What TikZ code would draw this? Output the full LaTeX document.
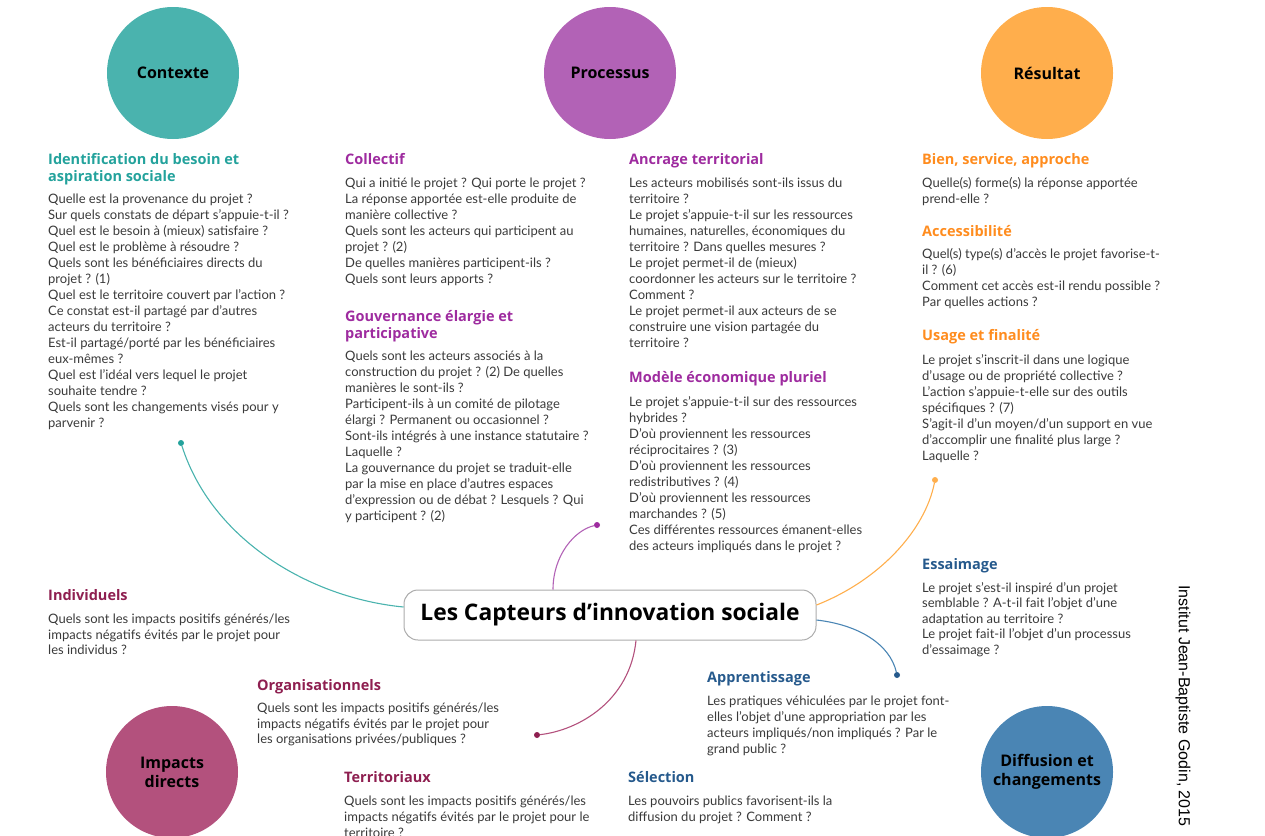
\documentclass[tikz,border=0pt]{standalone}
\usepackage{fontspec}
\setmainfont{Lato}
\newfontfamily\headfont{Open Sans}
\newfontfamily\signfont{Liberation Sans}
\usetikzlibrary{positioning}

\definecolor{ctxfill}{HTML}{4AB3AE}
\definecolor{profill}{HTML}{B262B6}
\definecolor{resfill}{HTML}{FFAE4C}
\definecolor{impfill}{HTML}{B3517D}
\definecolor{diffill}{HTML}{4A85B4}
\definecolor{ctxtxt}{HTML}{23A29C}
\definecolor{protxt}{HTML}{9E2B9F}
\definecolor{restxt}{HTML}{FF8C1E}
\definecolor{imptxt}{HTML}{8E1F50}
\definecolor{diftxt}{HTML}{25598C}
\definecolor{bodytxt}{HTML}{3A3A3A}

\begin{document}
\begin{tikzpicture}[x=1pt,y=-1pt,
    pole/.style={circle, minimum size=132pt, inner sep=0pt, align=center,
      font=\headfont\fontsize{16}{19}\selectfont\bfseries},
    rubric/.style={anchor=north west, inner sep=0pt, align=left,
      font=\headfont\fontsize{14.5}{16.8}\selectfont\bfseries},
    quest/.style={anchor=north west, inner sep=0pt, align=left, text=bodytxt,
      font=\fontsize{13}{16}\selectfont},
    tight/.style={font=\fontsize{13}{15.6}\selectfont},
    link/.style={line width=1.1pt},
    knob/.style={circle, fill, inner sep=0pt, minimum size=6pt}]
  \useasboundingbox (0,0) rectangle (1265,835);

  % the five poles
  \foreach \name/\x/\y/\col/\txt in {contexte/173/73/ctxfill/Contexte,
      processus/610/73/profill/Processus, resultat/1047/73/resfill/R\'esultat,
      impacts/172/772/impfill/{Impacts\\directs},
      diffusion/1047/772/diffill/{Diffusion et\\changements}} {
    \node[pole, fill=\col] (\name) at (\x,\y) {\txt};
  }

  % centre
  \node[draw=gray!65, fill=white, rounded corners=14pt, line width=1pt,
    minimum width=412pt, minimum height=50pt,
    font=\headfont\fontsize{22.8}{26}\selectfont\bfseries] (capteurs) at (610,615)
    {Les Capteurs d’innovation sociale};

  % connectors
  \node[knob, ctxtxt] (kctx) at (181,443) {};
  \node[knob, protxt] (kpro) at (597,525) {};
  \node[knob, resfill] (kres) at (935,480) {};
  \node[knob, diftxt] (kdif) at (897,675) {};
  \node[knob, imptxt] (kimp) at (537,735) {};
  \draw[link, ctxfill] ([yshift=8pt]capteurs.west) .. controls (310,598) and (212,540) .. (kctx);
  \draw[link, profill] ([xshift=-57pt]capteurs.north) .. controls (553,555) and (575,530) .. (kpro);
  \draw[link, resfill] ([yshift=10pt]capteurs.east) .. controls (880,580) and (925,530) .. (kres);
  \draw[link, diffill] ([yshift=-5pt]capteurs.east) .. controls (860,625) and (890,645) .. (kdif);
  \draw[link, impfill] ([xshift=26pt]capteurs.south) .. controls (630,700) and (580,730) .. (kimp);

  % Contexte
  \node[rubric, text=ctxtxt] (besoin) at (48,153) {Identification du besoin et\\aspiration sociale};
  \node[quest] (besoinq) at (48,194) {Quelle est la provenance du projet ?\\Sur quels constats de départ s’appuie-t-il ?\\Quel est le besoin à (mieux) satisfaire ?\\Quel est le problème à résoudre ?\\Quels sont les bénéficiaires directs du\\projet ? (1)\\Quel est le territoire couvert par l’action ?\\Ce constat est-il partagé par d’autres\\acteurs du territoire ?\\Est-il partagé/porté par les bénéficiaires\\eux-mêmes ?\\Quel est l’idéal vers lequel le projet\\souhaite tendre ?\\Quels sont les changements visés pour y\\parvenir ?};

  % Processus
  \node[rubric, text=protxt] (collectif) at (345,153) {Collectif};
  \node[quest] (collectifq) at (345,178) {Qui a initié le projet ? Qui porte le projet ?\\La réponse apportée est-elle produite de\\manière collective ?\\Quels sont les acteurs qui participent au\\projet ? (2)\\De quelles manières participent-ils ?\\Quels sont leurs apports ?};
  \node[rubric, text=protxt] (gouv) at (345,310) {Gouvernance élargie et\\participative};
  \node[quest] (gouvq) at (345,351) {Quels sont les acteurs associés à la\\construction du projet ? (2) De quelles\\manières le sont-ils ?\\Participent-ils à un comité de pilotage\\élargi ? Permanent ou occasionnel ?\\Sont-ils intégrés à une instance statutaire ?\\Laquelle ?\\La gouvernance du projet se traduit-elle\\par la mise en place d’autres espaces\\d’expression ou de débat ? Lesquels ? Qui\\y participent ? (2)};
  \node[rubric, text=protxt] (ancrage) at (629,153) {Ancrage territorial};
  \node[quest] (ancrageq) at (629,178) {Les acteurs mobilisés sont-ils issus du\\territoire ?\\Le projet s’appuie-t-il sur les ressources\\humaines, naturelles, économiques du\\territoire ? Dans quelles mesures ?\\Le projet permet-il de (mieux)\\coordonner les acteurs sur le territoire ?\\Comment ?\\Le projet permet-il aux acteurs de se\\construire une vision partagée du\\territoire ?};
  \node[rubric, text=protxt] (modele) at (629,371) {Modèle économique pluriel};
  \node[quest] (modeleq) at (629,396) {Le projet s’appuie-t-il sur des ressources\\hybrides ?\\D’où proviennent les ressources\\réciprocitaires ? (3)\\D’où proviennent les ressources\\redistributives ? (4)\\D’où proviennent les ressources\\marchandes ? (5)\\Ces différentes ressources émanent-elles\\des acteurs impliqués dans le projet ?};

  % Resultat
  \node[rubric, text=restxt] (bien) at (922,153) {Bien, service, approche};
  \node[quest] (bienq) at (922,177) {Quelle(s) forme(s) la réponse apportée\\prend-elle ?};
  \node[rubric, text=restxt] (acces) at (922,225) {Accessibilité};
  \node[quest] (accesq) at (922,248) {Quel(s) type(s) d’accès le projet favorise-t-\\il ? (6)\\Comment cet accès est-il rendu possible ?\\Par quelles actions ?};
  \node[rubric, text=restxt] (usage) at (922,329) {Usage et finalité};
  \node[quest] (usageq) at (922,354) {Le projet s’inscrit-il dans une logique\\d’usage ou de propriété collective ?\\L’action s’appuie-t-elle sur des outils\\spécifiques ? (7)\\S’agit-il d’un moyen/d’un support en vue\\d’accomplir une finalité plus large ?\\Laquelle ?};

  % Diffusion
  \node[rubric, text=diftxt] (essaim) at (922,558) {Essaimage};
  \node[quest, tight] (essaimq) at (922,582) {Le projet s’est-il inspiré d’un projet\\semblable ? A-t-il fait l’objet d’une\\adaptation au territoire ?\\Le projet fait-il l’objet d’un processus\\d’essaimage ?};
  \node[rubric, text=diftxt] (appren) at (707,671) {Apprentissage};
  \node[quest] (apprenq) at (707,696) {Les pratiques véhiculées par le projet font-\\elles l’objet d’une appropriation par les\\acteurs impliqués/non impliqués ? Par le\\grand public ?};
  \node[rubric, text=diftxt] (select) at (628,771) {Sélection};
  \node[quest] (selectq) at (628,796) {Les pouvoirs publics favorisent-ils la\\diffusion du projet ? Comment ?};

  % Impacts
  \node[rubric, text=imptxt] (indiv) at (48,589) {Individuels};
  \node[quest, tight] (indivq) at (48,614) {Quels sont les impacts positifs générés/les\\impacts négatifs évités par le projet pour\\les individus ?};
  \node[rubric, text=imptxt] (orga) at (257,679) {Organisationnels};
  \node[quest, tight] (orgaq) at (257,703) {Quels sont les impacts positifs générés/les\\impacts négatifs évités par le projet pour\\les organisations privées/publiques ?};
  \node[rubric, text=imptxt] (terri) at (344,771) {Territoriaux};
  \node[quest] (terriq) at (344,796) {Quels sont les impacts positifs générés/les\\impacts négatifs évités par le projet pour le\\territoire ?};

  \node[rotate=-90, font=\signfont\fontsize{16}{19}\selectfont] (signature) at (1183,706) {Institut Jean-Baptiste Godin, 2015};
\end{tikzpicture}
\end{document}
